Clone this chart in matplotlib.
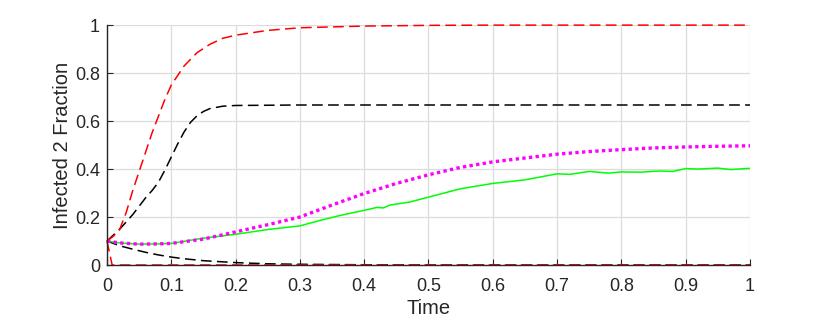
import matplotlib
matplotlib.use("Agg")
import matplotlib.pyplot as plt

plt.rcParams['font.family'] = ['Liberation Sans', 'DejaVu Sans']

# значения
t_red_up = [0, 0.01, 0.02, 0.03, 0.04, 0.05, 0.06, 0.07, 0.08, 0.09, 0.10, 0.12, 0.14,
            0.16, 0.18, 0.20, 0.25, 0.30, 0.40, 0.50, 0.60, 1.0]
red_up = [0.10, 0.12, 0.15, 0.22, 0.31, 0.39, 0.47, 0.55, 0.62, 0.69, 0.75, 0.83, 0.885,
          0.92, 0.945, 0.958, 0.978, 0.989, 0.996, 0.999, 1.0, 1.0]

t_black_up = [0, 0.02, 0.04, 0.06, 0.07, 0.08, 0.09, 0.10, 0.11, 0.12, 0.13, 0.14, 0.15,
              0.16, 0.18, 0.20, 0.30, 1.0]
black_up = [0.10, 0.15, 0.21, 0.28, 0.31, 0.345, 0.395, 0.45, 0.505, 0.555, 0.595, 0.622,
            0.64, 0.652, 0.662, 0.665, 0.667, 0.667]

t_black_low = [0, 0.02, 0.04, 0.06, 0.08, 0.10, 0.12, 0.15, 0.20, 0.25, 0.30, 0.40, 0.50, 1.0]
black_low = [0.10, 0.08, 0.066, 0.053, 0.042, 0.033, 0.026, 0.018, 0.010, 0.005, 0.003, 0.001, 0.0, 0.0]

t_red_low = [0, 0.004, 0.008, 1.0]
red_low = [0.10, 0.05, 0.0, 0.0]

t_mag = [0, 0.02, 0.05, 0.08, 0.10, 0.15, 0.20, 0.25, 0.30, 0.35, 0.40, 0.45, 0.50, 0.55,
         0.60, 0.65, 0.70, 0.75, 0.80, 0.85, 0.90, 0.95, 1.0]
mag = [0.10, 0.092, 0.087, 0.088, 0.09, 0.108, 0.138, 0.168, 0.20, 0.25, 0.298, 0.34, 0.376,
       0.407, 0.43, 0.446, 0.462, 0.473, 0.481, 0.488, 0.492, 0.495, 0.497]

t_green = [0, 0.02, 0.05, 0.08, 0.10, 0.15, 0.20, 0.25, 0.30, 0.33, 0.36, 0.40, 0.42, 0.43,
           0.44, 0.47, 0.50, 0.55, 0.60, 0.65, 0.70, 0.72, 0.75, 0.78, 0.80, 0.83, 0.86,
           0.88, 0.90, 0.92, 0.95, 0.97, 1.0]
green = [0.10, 0.092, 0.087, 0.088, 0.09, 0.112, 0.128, 0.148, 0.163, 0.185, 0.205, 0.228,
         0.24, 0.238, 0.25, 0.262, 0.283, 0.318, 0.34, 0.355, 0.38, 0.378, 0.39, 0.383,
         0.388, 0.387, 0.392, 0.39, 0.402, 0.40, 0.404, 0.398, 0.403]

x_ticks = [0, 0.1, 0.2, 0.3, 0.4, 0.5, 0.6, 0.7, 0.8, 0.9, 1]
x_labels = ['0', '0.1', '0.2', '0.3', '0.4', '0.5', '0.6', '0.7', '0.8', '0.9', '1']
y_ticks = [0, 0.2, 0.4, 0.6, 0.8, 1]
y_labels = ['0', '0.2', '0.4', '0.6', '0.8', '1']

fig = plt.figure(figsize=(8.3, 3.22), dpi=100)
ax = fig.add_axes([0.1289, 0.177, 0.7747, 0.745])

dash = (0, (7, 3.5))
ax.plot(t_black_up, black_up, color='k', lw=1.1, ls=dash, clip_on=False)
ax.plot(t_black_low, black_low, color='k', lw=1.1, ls=dash, clip_on=False)
ax.plot(t_red_up, red_up, color='r', lw=1.1, ls=dash, clip_on=False)
ax.plot(t_red_low, red_low, color='r', lw=1.1, ls=dash, clip_on=False)
ax.plot(t_green, green, color=(0, 1, 0), lw=1.1)
ax.plot(t_mag, mag, color=(1, 0, 1), lw=2.4, ls=(0, (1, 1)))

ax.set_xlim(0, 1)
ax.set_ylim(0, 1)
ax.set_xticks(x_ticks)
ax.set_xticklabels(x_labels)
ax.set_yticks(y_ticks)
ax.set_yticklabels(y_labels)
ax.grid(True, color='#dcdcdc', lw=0.9)
ax.set_axisbelow(True)

for s in ['top', 'right']:
    ax.spines[s].set_visible(False)
for s in ['left', 'bottom']:
    ax.spines[s].set_color('#262626')
    ax.spines[s].set_linewidth(1.0)

ax.tick_params(direction='in', length=4, colors='#262626', labelsize=13)
ax.tick_params(axis='x', pad=9)
ax.tick_params(axis='y', pad=5)
ax.set_xlabel('Time', fontsize=14.5, color='#262626', labelpad=3)
ax.set_ylabel('Infected 2 Fraction', fontsize=14.5, color='#262626', labelpad=2)

fig.savefig('out.png', dpi=100)
